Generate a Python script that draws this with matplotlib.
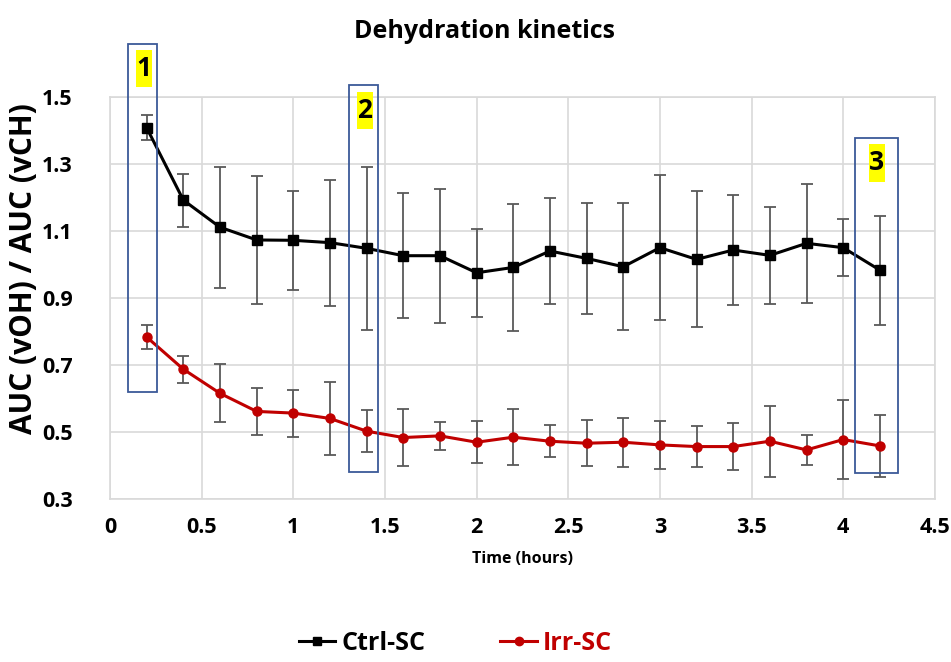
import matplotlib
matplotlib.use('Agg')
import matplotlib.pyplot as plt
from matplotlib.patches import Rectangle
from matplotlib.lines import Line2D

plt.rcParams['font.family'] = ['Open Sans', 'DejaVu Sans']
plt.rcParams['font.weight'] = 'bold'

# Time points (hours)
time_h = [0.2, 0.4, 0.6, 0.8, 1.0, 1.2, 1.4, 1.6, 1.8, 2.0, 2.2,
          2.4, 2.6, 2.8, 3.0, 3.2, 3.4, 3.6, 3.8, 4.0, 4.2]

# Ctrl-SC mean and error
ctrl_mean = [1.409, 1.193, 1.112, 1.074, 1.073, 1.066, 1.049, 1.027, 1.027, 0.976, 0.992,
             1.041, 1.019, 0.994, 1.051, 1.016, 1.044, 1.028, 1.064, 1.051, 0.984]
ctrl_err = [0.037, 0.079, 0.181, 0.190, 0.148, 0.188, 0.243, 0.187, 0.200, 0.131, 0.190,
            0.157, 0.165, 0.190, 0.217, 0.203, 0.164, 0.144, 0.178, 0.086, 0.163]

# Irr-SC mean and error
irr_mean = [0.784, 0.688, 0.616, 0.562, 0.557, 0.541, 0.503, 0.484, 0.489, 0.470, 0.485,
            0.473, 0.467, 0.470, 0.462, 0.457, 0.457, 0.473, 0.447, 0.478, 0.459]
irr_err = [0.035, 0.040, 0.087, 0.070, 0.070, 0.110, 0.063, 0.084, 0.041, 0.063, 0.083,
           0.048, 0.068, 0.073, 0.072, 0.060, 0.070, 0.106, 0.044, 0.118, 0.093]

# highlighted regions: (x0, x1, y0, y1) and their numbered tags
boxes = [(0.098, 0.255, 0.619, 1.659),
         (1.306, 1.464, 0.382, 1.537),
         (4.064, 4.297, 0.378, 1.378)]
box_tags = ['1', '2', '3']
tag_pos = [(0.185, 1.586), (1.390, 1.461), (4.183, 1.304)]

x_ticks = [0, 0.5, 1, 1.5, 2, 2.5, 3, 3.5, 4, 4.5]
y_ticks = [0.3, 0.5, 0.7, 0.9, 1.1, 1.3, 1.5]

fig = plt.figure(figsize=(9.51, 6.62), dpi=100)
ax = fig.add_axes([0.1157, 0.246, 0.8673, 0.607])

grid_col = '#d9d9d9'
err_col = '#595959'
red = '#c00000'

ax.errorbar(time_h, ctrl_mean, yerr=ctrl_err, color='black', ecolor=err_col,
            elinewidth=1.3, capsize=4, capthick=1.3, marker='s', markersize=6.5,
            linewidth=2.2, zorder=3)
ax.errorbar(time_h, irr_mean, yerr=irr_err, color=red, ecolor=err_col,
            elinewidth=1.3, capsize=4, capthick=1.3, marker='o', markersize=6.5,
            linewidth=2.2, zorder=3)

tag_w, tag_h = 0.088, 0.112
for (x0, x1, y0, y1), tag, (tx, ty) in zip(boxes, box_tags, tag_pos):
    ax.add_patch(Rectangle((x0, y0), x1 - x0, y1 - y0, fill=False,
                           edgecolor='#3b5998', linewidth=1.3, clip_on=False, zorder=4))
    ax.add_patch(Rectangle((tx - tag_w / 2, ty - tag_h / 2), tag_w, tag_h,
                           facecolor='#ffff00', edgecolor='none', clip_on=False, zorder=5))
    ax.text(tx, ty, tag, ha='center', va='center', fontsize=19, fontweight='bold',
            zorder=6)

ax.set_xlim(0, 4.5)
ax.set_ylim(0.3, 1.5)
ax.set_xticks(x_ticks)
ax.set_xticklabels([f'{t:g}' for t in x_ticks])
ax.set_yticks(y_ticks)
ax.set_yticklabels([f'{t:.1f}' for t in y_ticks])
ax.tick_params(length=0, labelsize=15.5)
ax.tick_params(axis='y', pad=27)
ax.tick_params(axis='x', pad=13)
ax.grid(True, color=grid_col, linewidth=1.2)
ax.set_axisbelow(True)
for s in ax.spines.values():
    s.set_color(grid_col)
    s.set_linewidth(1.2)

ax.set_xlabel('Time (hours)', fontsize=11.5, fontweight='bold')
ax.xaxis.set_label_coords(0.5, -0.128)
ax.set_ylabel('AUC (vOH) / AUC (vCH)', fontsize=21.5, fontweight='bold')
ax.yaxis.set_label_coords(-0.086, 0.575)
fig.text(0.509, 0.952, 'Dehydration kinetics', ha='center', va='center',
         fontsize=18, fontweight='bold')

handles = [
    Line2D([], [], color='black', marker='s', markersize=6, linewidth=2.2),
    Line2D([], [], color=red, marker='o', markersize=6, linewidth=2.2),
]
fig.legend(handles, ['Ctrl-SC', 'Irr-SC'], loc='center', bbox_to_anchor=(0.479, 0.028),
           ncol=2, frameon=False, labelcolor='linecolor', handlelength=1.45,
           handletextpad=0.25, columnspacing=3.0, borderpad=0.2,
           prop={'weight': 'bold', 'size': 18})

fig.savefig('out.png', dpi=100)
